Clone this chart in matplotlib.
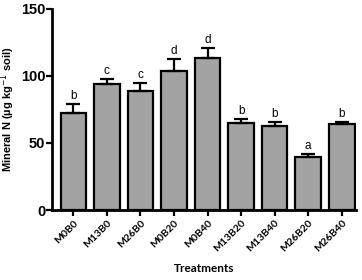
import matplotlib
matplotlib.use("Agg")
import matplotlib.pyplot as plt
import matplotlib.transforms as mtransforms
import numpy as np

categories = ["M0B0", "M13B0", "M26B0", "M0B20", "M0B40", "M13B20", "M13B40", "M26B20", "M26B40"]
means = [72.5, 94, 89, 103.5, 113.5, 65, 63, 39.5, 64]
errors = [6.5, 4, 5.5, 9.5, 7.5, 3, 3, 2.5, 1.5]
letters = ["b", "c", "c", "d", "d", "b", "b", "a", "b"]
yticks = [0, 50, 100, 150]

fig = plt.figure(figsize=(3.62, 2.80), dpi=100)
ax = fig.add_axes([0.144, 0.25, 0.839, 0.718])

x = np.arange(len(categories))
ax.bar(x, means, width=0.76, color="#a3a3a3", edgecolor="black", linewidth=1.6, zorder=2)
ax.errorbar(x, means, yerr=[np.zeros(len(means)), errors], fmt="none",
            ecolor="black", elinewidth=1.6, capsize=5, capthick=1.6, zorder=3)
for xi, m, e, l in zip(x, means, errors, letters):
    ax.text(xi, m + e + 1.5, l, ha="center", va="bottom", fontsize=8.5,
            family="Liberation Sans")

ax.set_xlim(-0.63, 8.42)
ax.set_ylim(0, 150)
ax.set_yticks(yticks)
ax.set_yticklabels([str(v) for v in yticks], fontsize=10.5, fontweight="bold",
                   family="Liberation Sans")
ax.set_xticks(x)
ax.set_xticklabels(categories, rotation=45, ha="right", rotation_mode="anchor",
                   fontsize=7.5, family="Lato", fontweight="bold")
offset = mtransforms.ScaledTranslation(6 / 100, -7 / 100, fig.dpi_scale_trans)
for lab in ax.get_xticklabels():
    lab.set_transform(lab.get_transform() + offset)
for s in ["top", "right"]:
    ax.spines[s].set_visible(False)
for s in ["left", "bottom"]:
    ax.spines[s].set_linewidth(2)
ax.tick_params(axis="both", direction="out", length=4, width=1.6, pad=2)
ax.tick_params(axis="y", pad=1)

ax.set_ylabel("Mineral N (µg kg$^{-1}$ soil)", fontsize=8, fontweight="bold",
              family="Liberation Sans")
ax.yaxis.set_label_coords(-0.115, 0.5)
ax.set_xlabel("Treatments", fontsize=8.5, fontweight="bold", family="Lato")
ax.xaxis.set_label_coords(0.5, -0.265)

fig.savefig("out.png", dpi=100)
